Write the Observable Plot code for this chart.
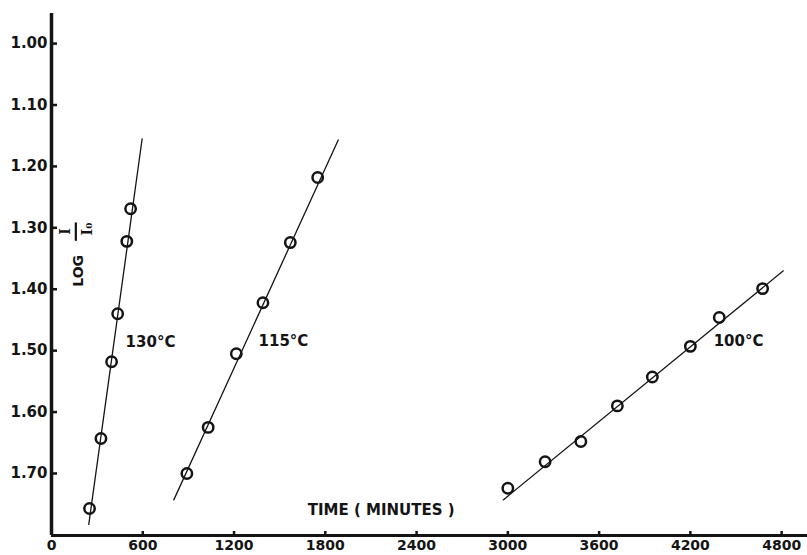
<!DOCTYPE html>
<html>
<head>
<meta charset="utf-8">
<script src="https://cdn.jsdelivr.net/npm/d3@7"></script>
<script src="https://cdn.jsdelivr.net/npm/@observablehq/plot@0.6"></script>
<style>
  body { margin: 0; background: #fff; }
</style>
</head>
<body>
<div id="chart"></div>
<script>
// Measured points: time (minutes) and log(I/I0) at three temperatures
const time130 = [250, 325, 395, 435, 495, 520];
const log130  = [1.757, 1.643, 1.518, 1.440, 1.322, 1.269];

const time115 = [890, 1030, 1215, 1390, 1570, 1750];
const log115  = [1.700, 1.625, 1.505, 1.422, 1.324, 1.218];

const time100 = [3000, 3245, 3480, 3720, 3950, 4200, 4390, 4675];
const log100  = [1.724, 1.681, 1.648, 1.590, 1.543, 1.493, 1.446, 1.399];

// Fitted straight lines (end points) for each temperature
const fitTime130 = [245, 596],   fitLog130 = [1.783, 1.155];
const fitTime115 = [804, 1885],  fitLog115 = [1.743, 1.157];
const fitTime100 = [2970, 4811], fitLog100 = [1.743, 1.370];

// Series labels and where they sit
const seriesNames = ["130°C", "115°C", "100°C"];
const labelTime   = [487, 1361, 4353];
const labelLog    = [1.487, 1.484, 1.484];

// Axis ticks
const xTicks = [0, 600, 1200, 1800, 2400, 3000, 3600, 4200, 4800];
const yTicks = [1.00, 1.10, 1.20, 1.30, 1.40, 1.50, 1.60, 1.70];

const xDomain = [0, 4970];
const yDomain = [0.951, 1.801];

const toRows = (name, ts, vs) => ts.map((t, i) => ({series: name, t, v: vs[i]}));
const points = [
  ...toRows(seriesNames[0], time130, log130),
  ...toRows(seriesNames[1], time115, log115),
  ...toRows(seriesNames[2], time100, log100)
];
const fits = [
  ...toRows(seriesNames[0], fitTime130, fitLog130),
  ...toRows(seriesNames[1], fitTime115, fitLog115),
  ...toRows(seriesNames[2], fitTime100, fitLog100)
];
const labels = seriesNames.map((s, i) => ({s, t: labelTime[i], v: labelLog[i]}));

const ink = "#141414";
const font = "DejaVu Sans";

const chart = Plot.plot({
  width: 807,
  height: 555,
  marginLeft: 51,
  marginRight: 0,
  marginTop: 13,
  marginBottom: 20,
  x: {domain: xDomain},
  y: {domain: yDomain, reverse: true},
  style: {fontFamily: font, fontWeight: "bold", fontSize: "15px", color: ink, background: "#fff"},
  marks: [
    // frame lines of the axes
    Plot.ruleX([xDomain[0]], {y1: yDomain[0], y2: yDomain[1], stroke: ink, strokeWidth: 3.5}),
    Plot.ruleY([yDomain[1]], {x1: xDomain[0], x2: xDomain[1], stroke: ink, strokeWidth: 3}),
    // inward tick marks
    Plot.axisY({ticks: yTicks, tickSize: 6, dx: 6, tickFormat: () => "", strokeWidth: 2.5, label: null}),
    Plot.axisX({ticks: xTicks.slice(1), tickSize: 4, dy: -4, tickFormat: () => "", strokeWidth: 2.5, label: null}),
    // tick labels
    Plot.axisY({ticks: yTicks, tickSize: 0, tickPadding: 4, tickFormat: d3.format(".2f"), label: null, fontSize: 15}),
    Plot.axisX({ticks: xTicks, tickSize: 0, tickPadding: 5, tickFormat: d => String(d), label: null, fontSize: 14}),
    // fitted lines
    Plot.line(fits, {x: "t", y: "v", z: "series", stroke: ink, strokeWidth: 1.3}),
    // data points
    Plot.dot(points, {x: "t", y: "v", r: 5.2, stroke: ink, strokeWidth: 2.5, fill: "none"}),
    // temperature labels
    Plot.text(labels, {x: "t", y: "v", text: "s", textAnchor: "start", fontSize: 15, fill: ink}),
    // x axis title
    Plot.text(["TIME ( MINUTES )"], {x: 2167, y: 1.759, fontSize: 15, fill: ink, textAnchor: "middle"}),
    // y axis title: LOG I/I0 written upward
    Plot.text(["LOG"], {x: 178, y: 1.370, rotate: -90, fontSize: 14, fill: ink}),
    Plot.text(["I"], {x: 90, y: 1.306, rotate: -90, fontSize: 14, fontFamily: "DejaVu Serif", fill: ink}),
    Plot.ruleX([160], {y1: 1.292, y2: 1.322, stroke: ink, strokeWidth: 2.2}),
    Plot.text(["I₀"], {x: 238, y: 1.302, rotate: -90, fontSize: 14, fontFamily: "DejaVu Serif", fill: ink})
  ]
});

document.getElementById("chart").appendChild(chart);
</script>
</body>
</html>
